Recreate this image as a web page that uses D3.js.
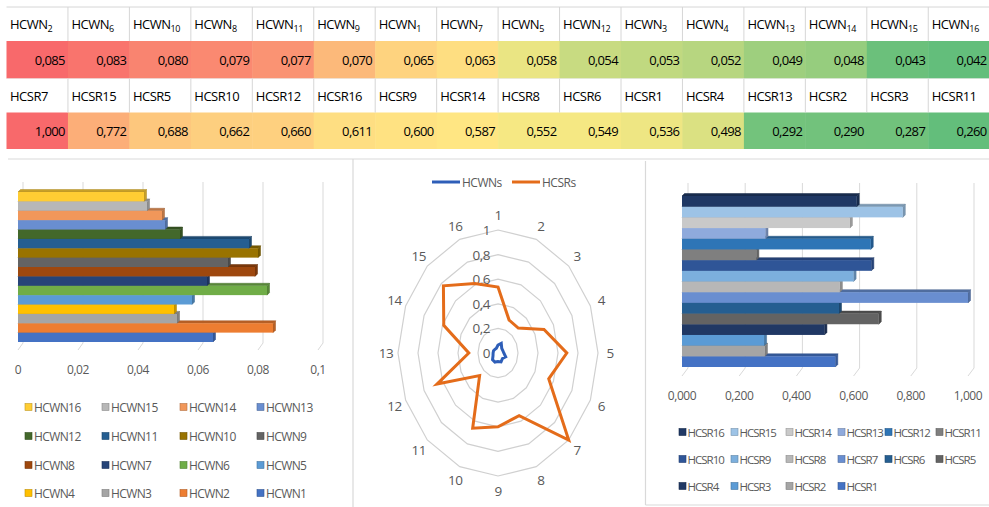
<!DOCTYPE html>
<html>
<head>
<meta charset="utf-8">
<script src="https://cdn.jsdelivr.net/npm/d3@7"></script>
<style>
  html, body { margin: 0; padding: 0; background: #fff; }
  svg { display: block; font-family: 'Open Sans', 'Liberation Sans', sans-serif; }
</style>
</head>
<body>
<svg id="chart" width="989" height="507"></svg>
<script>
// Component numbers in ranked order (highest first) for each table row
const wnOrder = [2, 6, 10, 8, 11, 9, 1, 7, 5, 12, 3, 4, 13, 14, 15, 16];
const srOrder = [7, 15, 5, 10, 12, 16, 9, 14, 8, 6, 1, 4, 13, 2, 3, 11];

// Values by component number 1..16
const hcwnValues = [0.065, 0.085, 0.053, 0.052, 0.058, 0.083, 0.063, 0.079,
                    0.070, 0.080, 0.077, 0.054, 0.049, 0.048, 0.043, 0.042];
const hcsrValues = [0.536, 0.290, 0.287, 0.498, 0.688, 0.549, 1.000, 0.552,
                    0.600, 0.662, 0.260, 0.660, 0.292, 0.587, 0.772, 0.611];

// Axis ticks
const wnTicks = [0, 0.02, 0.04, 0.06, 0.08, 0.1];
const srTicks = [0, 0.2, 0.4, 0.6, 0.8, 1.0];
const radarTicks = [0, 0.2, 0.4, 0.6, 0.8, 1];

// Series colours by component number 1..16
const wnColors = ["#4472C4", "#ED7D31", "#A5A5A5", "#FFC000", "#5B9BD5", "#70AD47",
                  "#264478", "#9E480E", "#636363", "#997300", "#255E91", "#43682B",
                  "#698ED0", "#F1975A", "#B7B7B7", "#FFCD33"];
const srColors = ["#4472C4", "#A5A5A5", "#5B9BD5", "#203864", "#636363", "#255E91",
                  "#698ED0", "#B7B7B7", "#7CAFDD", "#2F5597", "#7F7F7F", "#2E75B6",
                  "#8FAADC", "#C9C9C9", "#9DC3E6", "#1F3864"];

const radarSeries = ["HCWNs", "HCSRs"];
const radarColors = ["#2E5EB8", "#E46C1A"];

const svg = d3.select("#chart");
const dec = (v, n) => v.toFixed(n).replace(".", ",");
const shortNum = v => String(+v.toFixed(2)).replace(".", ",");
const comp = d3.range(1, 17);

// ---------- ranked table ----------
const colX = d3.scaleBand().domain(d3.range(16)).range([6.5, 6.5 + 16 * 61.45]);
const rowsY = { h1: [7, 41], v1: [41, 78.5], h2: [78.5, 112.5], v2: [112.5, 149] };

function heat(values) {
  const s = values.slice().sort(d3.ascending);
  return d3.scaleLinear()
    .domain([d3.min(s), d3.median(s), d3.max(s)])
    .range(["#63BE7B", "#FFEB84", "#F8696B"]);
}
const wnHeat = heat(hcwnValues), srHeat = heat(hcsrValues);

const table = svg.append("g");
const cellRows = [
  { order: wnOrder, vals: hcwnValues, heat: wnHeat, hdr: rowsY.h1, val: rowsY.v1, prefix: "HCWN", sub: true },
  { order: srOrder, vals: hcsrValues, heat: srHeat, hdr: rowsY.h2, val: rowsY.v2, prefix: "HCSR", sub: false }
];
cellRows.forEach(r => {
  // coloured value cells
  table.selectAll(null).data(r.order).join("rect")
    .attr("x", (d, i) => colX(i)).attr("y", r.val[0])
    .attr("width", colX.bandwidth() + 0.5).attr("height", r.val[1] - r.val[0])
    .attr("fill", d => r.heat(r.vals[d - 1]));
  // header cell borders
  table.selectAll(null).data(d3.range(1, 16)).join("line")
    .attr("x1", i => colX(i)).attr("x2", i => colX(i))
    .attr("y1", r.hdr[0]).attr("y2", r.hdr[1])
    .attr("stroke", "#D6D6D6").attr("stroke-width", 1);
  // header labels
  const hdr = table.selectAll(null).data(r.order).join("text")
    .attr("x", (d, i) => colX(i) + 3.5).attr("y", (r.hdr[0] + r.hdr[1]) / 2 + 5)
    .attr("font-size", 13).attr("letter-spacing", -0.5).attr("fill", "#000");
  if (r.sub) {
    hdr.append("tspan").text(r.prefix);
    hdr.append("tspan").attr("font-size", 9).attr("dy", 3).attr("letter-spacing", -0.3)
      .text(d => d);
  } else {
    hdr.text(d => r.prefix + d);
  }
  // values
  table.selectAll(null).data(r.order).join("text")
    .attr("x", (d, i) => colX(i) + colX.bandwidth() - 3).attr("y", (r.val[0] + r.val[1]) / 2 + 5)
    .attr("text-anchor", "end").attr("font-size", 13).attr("letter-spacing", -0.6)
    .attr("fill", "#000").text(d => dec(r.vals[d - 1], 3));
});
table.append("line").attr("x1", 6.5).attr("x2", 989).attr("y1", 7).attr("y2", 7)
  .attr("stroke", "#D6D6D6");
table.append("line").attr("x1", 6.5).attr("x2", 989).attr("y1", rowsY.h2[0]).attr("y2", rowsY.h2[0])
  .attr("stroke", "#E2E2E2").attr("stroke-width", 0.5);

// ---------- panel frames ----------
const frame = svg.append("g").attr("stroke", "#D9D9D9").attr("stroke-width", 1.2).attr("fill", "none");
frame.append("line").attr("x1", 8).attr("x2", 989).attr("y1", 159).attr("y2", 159);
frame.append("line").attr("x1", 353).attr("x2", 353).attr("y1", 159).attr("y2", 507);
frame.append("line").attr("x1", 645.5).attr("x2", 645.5).attr("y1", 161).attr("y2", 505);
frame.append("line").attr("x1", 645.5).attr("x2", 989).attr("y1", 505).attr("y2", 505);

// ---------- 3-D horizontal bar chart helper ----------
function bar3d(g, opt) {
  const { x, y, values, colors, depth, floor, gridTop, gridBottom, ticks, tickFmt, tickY } = opt;
  // back-wall gridlines with floor stubs
  const grid = g.append("g").attr("stroke", "#D9D9D9").attr("stroke-width", 1).attr("fill", "none");
  grid.selectAll(null).data(ticks).join("path")
    .attr("d", t => `M${x(t) + floor[0]},${gridTop}V${gridBottom}l${-floor[0]},${floor[1]}`);
  // bars, drawn from the bottom up so upper bars overlap lower top faces
  const bh = y.bandwidth();
  const bars = g.selectAll(null).data(comp).join("g");
  bars.each(function (c) {
    const gg = d3.select(this);
    const x0 = x(0), x1 = x(values[c - 1]), yt = y(c);
    const col = colors[c - 1];
    const dark = d3.color(col).darker(0.7).formatHex();
    const edge = d3.color(col).darker(1.1).formatHex();
    gg.append("path").attr("fill", dark).attr("stroke", edge).attr("stroke-width", 0.5)
      .attr("d", `M${x0},${yt}L${x0 + depth},${yt - depth}H${x1 + depth}L${x1},${yt}Z`);
    gg.append("path").attr("fill", dark).attr("stroke", edge).attr("stroke-width", 0.5)
      .attr("d", `M${x1},${yt}L${x1 + depth},${yt - depth}V${yt + bh - depth}L${x1},${yt + bh}Z`);
    gg.append("rect").attr("x", x0).attr("y", yt).attr("width", x1 - x0).attr("height", bh)
      .attr("fill", col);
  });
  // value axis labels
  g.selectAll(null).data(ticks).join("text")
    .attr("x", t => x(t)).attr("y", tickY).attr("text-anchor", "middle")
    .attr("dominant-baseline", "central").attr("font-size", 12).attr("letter-spacing", -0.4)
    .attr("fill", "#595959").text(tickFmt);
}

function legend(g, items, opt) {
  const it = g.selectAll(null).data(items).join("g")
    .attr("transform", (d, i) => `translate(${opt.cols[i % opt.cols.length]},${opt.rows[Math.floor(i / opt.cols.length)]})`);
  it.append("rect").attr("x", 0).attr("y", -3.5).attr("width", 7).attr("height", 7)
    .attr("fill", d => d.color).attr("stroke", d => d3.color(d.color).darker(0.8)).attr("stroke-width", 0.6);
  it.append("text").attr("x", opt.gap).attr("y", 0).attr("dominant-baseline", "central")
    .attr("font-size", opt.size).attr("letter-spacing", opt.spacing).attr("fill", "#595959")
    .text(d => d.label);
}

// ---------- HCWN bar chart ----------
const wnX = d3.scaleLinear().domain([0, 0.1]).range([18, 318]);
const wnY = d3.scaleBand().domain(d3.range(16, 0, -1)).range([192, 342]);
bar3d(svg.append("g"), {
  x: wnX, y: wnY, values: hcwnValues, colors: wnColors, depth: 2.5, floor: [5, 7],
  gridTop: 182, gridBottom: 343, ticks: wnTicks, tickFmt: shortNum, tickY: 369
});
legend(svg.append("g"), comp.slice().reverse().map(c => ({ label: "HCWN" + c, color: wnColors[c - 1] })), {
  cols: [25, 102, 180, 257], rows: [407, 436, 465, 493], size: 12, spacing: -0.6, gap: 9
});

// ---------- HCSR bar chart ----------
const srX = d3.scaleLinear().domain([0, 1]).range([682, 968]);
const srY = d3.scaleBand().domain(d3.range(16, 0, -1)).range([196, 367]);
bar3d(svg.append("g"), {
  x: srX, y: srY, values: hcsrValues, colors: srColors, depth: 2.5, floor: [6, 8],
  gridTop: 183, gridBottom: 368, ticks: srTicks, tickFmt: v => dec(v, 3), tickY: 395
});
legend(svg.append("g"), comp.slice().reverse().map(c => ({ label: "HCSR" + c, color: srColors[c - 1] })), {
  cols: [679, 731, 786, 838, 885, 936], rows: [432, 459, 486], size: 11.5, spacing: -1, gap: 8.5
});

// ---------- radar chart ----------
const cx = 498, cy = 353;
const rX = d3.scaleLinear().domain([0, 1]).range([0, 100]);
const rY = d3.scaleLinear().domain([0, 1]).range([0, 123]);
const ang = d3.scalePoint().domain(comp).range([0, 2 * Math.PI * 15 / 16]);
const pt = (c, v) => [cx + rX(v) * Math.sin(ang(c)), cy - rY(v) * Math.cos(ang(c))];
const radar = svg.append("g");

radar.selectAll(null).data(radarTicks.filter(t => t > 0)).join("path")
  .attr("fill", "none").attr("stroke", "#D0D0D0").attr("stroke-width", 1.2)
  .attr("d", t => d3.line().curve(d3.curveLinearClosed)(comp.map(c => pt(c, t))));

radar.selectAll(null).data(radarTicks).join("text")
  .attr("x", cx - 8).attr("y", t => cy - rY(t)).attr("text-anchor", "end")
  .attr("dominant-baseline", "central").attr("font-size", 13.5).attr("letter-spacing", -0.5)
  .attr("fill", "#595959").text(shortNum);

radar.selectAll(null).data(comp).join("text")
  .attr("x", c => pt(c, 1.12)[0]).attr("y", c => pt(c, 1.12)[1])
  .attr("text-anchor", "middle").attr("dominant-baseline", "central")
  .attr("font-size", 13.5).attr("letter-spacing", -0.5).attr("fill", "#595959").text(c => c);

const series = [hcwnValues, hcsrValues];
radar.selectAll(null).data(series).join("path")
  .attr("fill", "none").attr("stroke", (d, i) => radarColors[i]).attr("stroke-width", 3)
  .attr("stroke-linejoin", "miter")
  .attr("d", vals => d3.line().curve(d3.curveLinearClosed)(comp.map(c => pt(c, vals[c - 1]))));

// radar legend
const rl = radar.selectAll(null).data(radarSeries).join("g")
  .attr("transform", (d, i) => `translate(${[432, 512][i]},182)`);
rl.append("line").attr("x1", 0).attr("x2", 28).attr("y1", 0).attr("y2", 0)
  .attr("stroke", (d, i) => radarColors[i]).attr("stroke-width", 3);
rl.append("text").attr("x", 30).attr("y", 0).attr("dominant-baseline", "central")
  .attr("font-size", 12).attr("letter-spacing", -0.5).attr("fill", "#595959").text(d => d);
</script>
</body>
</html>
